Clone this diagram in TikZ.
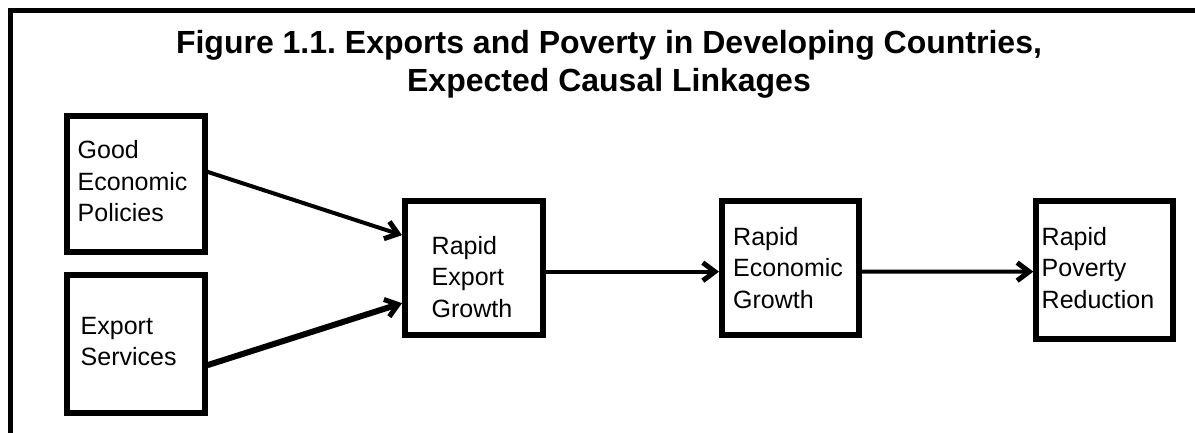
\documentclass[tikz,border=0pt]{standalone}
\usepackage{fontspec}
\setmainfont{Liberation Sans}
\newfontfamily\boxfont{Liberation Sans}
\newfontfamily\headfont{Liberation Sans}
\usetikzlibrary{arrows.meta}
\frenchspacing

\tikzset{
  frameline/.style={line width=5pt},
  stagebox/.style={draw, line width=6pt, inner sep=0pt, outer sep=3pt},
  boxtext/.style={anchor=north west, inner sep=0pt, align=left,
    font={\boxfont\fontsize{25}{31.5}\selectfont}},
  link/.style={line width=4pt, -{Straight Barb[length=12pt,width=18pt,line width=5pt]}},
  heavylink/.style={link, line width=6pt}
}

\begin{document}
\begin{tikzpicture}[x=1pt,y=-1pt]
  \clip (0,0) rectangle (1195,432);
  \useasboundingbox (0,0) rectangle (1195,432);

  % outer frame, open to the right and bottom
  \draw[frameline] (10.5,10.5) rectangle (1300,600);

  % title
  \node (title) [anchor=north, inner sep=0pt, align=center,
    font={\headfont\bfseries\fontsize{32}{37.5}\selectfont}] at (609,30.4)
    {Figure 1.1. Exports and Poverty in Developing Countries,\\Expected Causal Linkages};

  % boxes
  \node (b1) [stagebox, minimum width=137.5pt, minimum height=136.3pt] at (135.75,183.85) {};
  \node (b2) [stagebox, minimum width=137.5pt, minimum height=137.7pt] at (135.75,344.15) {};
  \node (b3) [stagebox, minimum width=138pt,   minimum height=134.3pt] at (474,268.15) {};
  \node (b4) [stagebox, minimum width=137pt,   minimum height=134.3pt] at (790.5,268.15) {};
  \node (b5) [stagebox, minimum width=136.7pt, minimum height=137.7pt] at (1104.65,269.85) {};

  % box labels
  \node (t1) [boxtext] at (77.5,140.3) {Good\\Economic\\Policies};
  \node (t2) [boxtext] at (80.5,317) {Export\\Services};
  \node (t3) [boxtext] at (431.5,236) {Rapid\\Export\\Growth};
  \node (t4) [boxtext] at (733,227) {Rapid\\Economic\\Growth};
  \node (t5) [boxtext] at (1041.5,227) {Rapid\\Poverty\\Reduction};

  % causal links
  \draw[link] ([yshift=12pt]b1.east) -- ([yshift=33pt]b3.west);
  \draw[heavylink] ([yshift=-21pt]b2.east) -- ([yshift=-35pt]b3.west);
  \draw[link] ([yshift=-3.5pt]b3.east) -- ([yshift=-3.5pt]b4.west);
  \draw[link] ([yshift=-3.5pt]b4.east) -- ([yshift=-1.8pt]b5.west);
\end{tikzpicture}
\end{document}
